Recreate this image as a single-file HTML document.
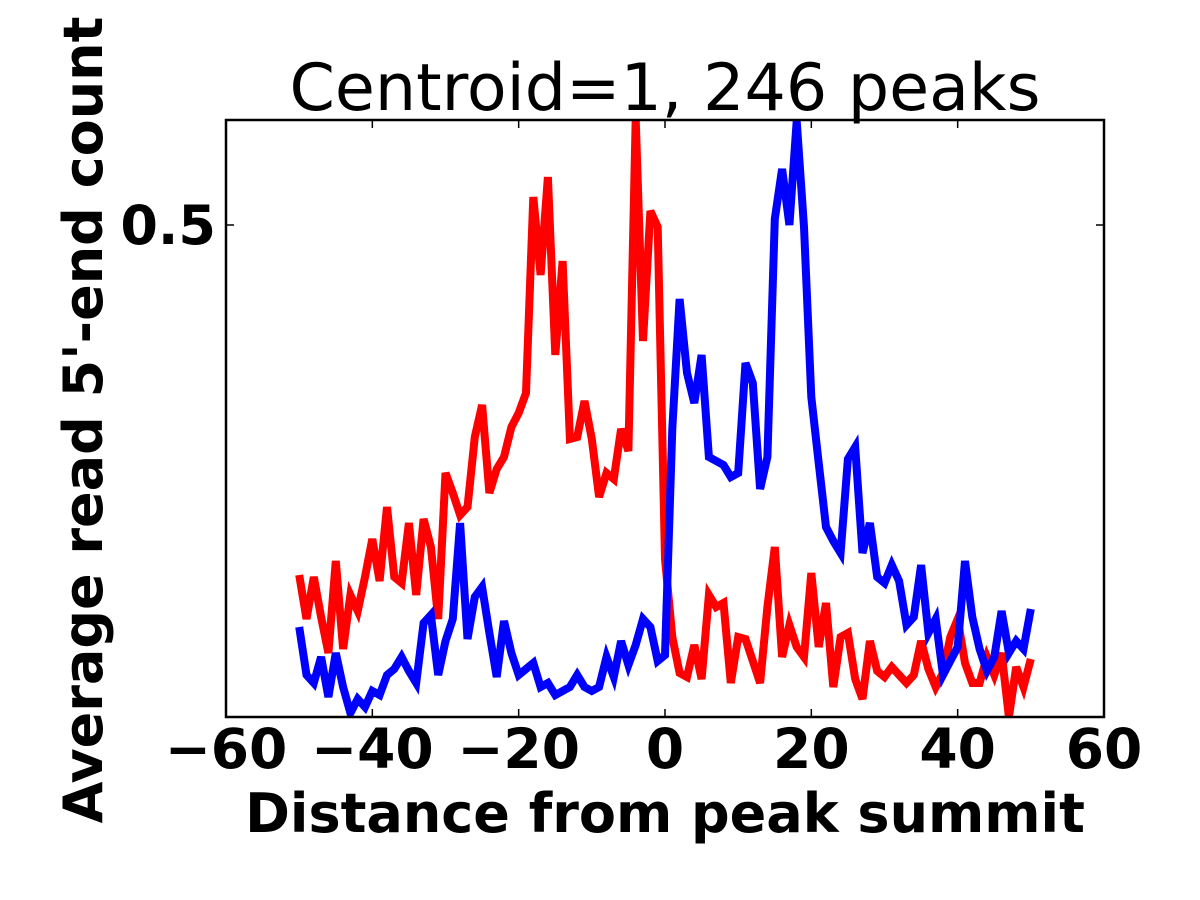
<!DOCTYPE html>
<html><head><meta charset="utf-8"><style>
html,body{margin:0;padding:0;background:#fff;}
svg{display:block;font-family:"DejaVu Sans","Liberation Sans",sans-serif;}
</style></head><body>
<svg id="chart" width="1200" height="900" viewBox="0 0 1200 900" xmlns="http://www.w3.org/2000/svg">
<defs><clipPath id="clip"><rect x="226" y="120" width="878" height="597"/></clipPath></defs>
<text x="665" y="110" font-size="65" text-anchor="middle" fill="#000">Centroid=1, 246 peaks</text>
<g id="series" clip-path="url(#clip)"></g>
<rect x="226" y="120" width="878" height="597" fill="none" stroke="#000" stroke-width="2.5"/>
<g id="ticks"></g>
<text x="665" y="832" font-size="54" font-weight="bold" text-anchor="middle">Distance from peak summit</text>
<text x="0" y="0" font-size="54" font-weight="bold" text-anchor="middle" transform="translate(102,420) rotate(-90)">Average read 5'-end count</text>
</svg>
<script>
const xTicks=[-60,-40,-20,0,20,40,60];
const xTickLabels=["\u221260","\u221240","\u221220","0","20","40","60"];
const yTicks=[0.5];
const yTickLabels=["0.5"];
const positions=[];for(let i=-50;i<=50;i++)positions.push(i);
const redValues=[.325,.303,.324,.304,.286,.332,.288,.315,.307,.324,.343,.322,.359,.324,.321,.351,.315,.353,.339,.303,.376,.366,.355,.359,.394,.410,.366,.378,.384,.399,.406,.416,.514,.475,.524,.435,.482,.393,.394,.412,.393,.364,.376,.373,.398,.387,.553,.442,.507,.499,.333,.294,.276,.274,.290,.273,.315,.309,.311,.271,.294,.293,.282,.271,.309,.339,.284,.300,.289,.284,.326,.289,.311,.269,.294,.296,.273,.263,.292,.277,.274,.279,.275,.271,.275,.292,.278,.269,.276,.294,.303,.281,.271,.271,.284,.275,.286,.254,.279,.269,.283];
const blueValues=[.299,.275,.271,.284,.264,.286,.269,.256,.263,.259,.267,.265,.275,.278,.284,.277,.271,.301,.305,.275,.292,.303,.351,.293,.314,.319,.296,.274,.302,.286,.275,.278,.281,.269,.271,.265,.267,.269,.275,.269,.267,.269,.284,.274,.292,.280,.290,.303,.299,.282,.285,.398,.463,.426,.411,.435,.384,.382,.380,.374,.376,.431,.421,.368,.384,.503,.528,.500,.552,.499,.414,.381,.349,.342,.336,.383,.389,.336,.351,.324,.321,.330,.322,.300,.304,.330,.296,.303,.275,.282,.289,.332,.304,.288,.277,.284,.307,.286,.292,.288,.308];
const X0=226,X1=1104,Y0=120,Y1=717,xmin=-60,xmax=60,ymax=0.5525,ymin=0.2540;
const sx=v=>X0+(v-xmin)/(xmax-xmin)*(X1-X0);
const sy=v=>Y0+(ymax-v)/(ymax-ymin)*(Y1-Y0);
const NS="http://www.w3.org/2000/svg";
const g=document.getElementById('series');
function line(vals,color,name){
  const p=document.createElementNS(NS,'polyline');
  p.setAttribute('points',vals.map((v,i)=>sx(positions[i]).toFixed(1)+','+sy(v).toFixed(1)).join(' '));
  p.setAttribute('fill','none');p.setAttribute('stroke',color);p.setAttribute('stroke-width','8');
  p.setAttribute('stroke-linejoin','miter');
  
  
  g.appendChild(p);
}
line(redValues,'#ff0000','red-series-line');
line(blueValues,'#0000ff','blue-series-line');
const t=document.getElementById('ticks');
xTicks.forEach((v,i)=>{
  const x=sx(v);
  [[Y1,Y1-8],[Y0,Y0+8]].forEach(([a,b])=>{
    const l=document.createElementNS(NS,'line');
    l.setAttribute('x1',x);l.setAttribute('x2',x);l.setAttribute('y1',a);l.setAttribute('y2',b);
    l.setAttribute('stroke','#000');l.setAttribute('stroke-width','1.5');
    
    
    t.appendChild(l);
  });
  const tx=document.createElementNS(NS,'text');
  tx.setAttribute('x',x);tx.setAttribute('y',Y1+51);tx.setAttribute('font-size','55');
  tx.setAttribute('font-weight','bold');tx.setAttribute('text-anchor','middle');
  tx.textContent=xTickLabels[i];
  
  
  t.appendChild(tx);
});
yTicks.forEach((v,i)=>{
  const y=sy(v);
  [[X0,X0+8],[X1,X1-8]].forEach(([a,b])=>{
    const l=document.createElementNS(NS,'line');
    l.setAttribute('x1',a);l.setAttribute('x2',b);l.setAttribute('y1',y);l.setAttribute('y2',y);
    l.setAttribute('stroke','#000');l.setAttribute('stroke-width','1.5');
    
    
    t.appendChild(l);
  });
  const tx=document.createElementNS(NS,'text');
  tx.setAttribute('x',X0-10);tx.setAttribute('y',y+19);tx.setAttribute('font-size','54');
  tx.setAttribute('font-weight','bold');tx.setAttribute('text-anchor','end');
  tx.textContent=yTickLabels[i];
  
  
  t.appendChild(tx);
});
</script>
</body></html>
